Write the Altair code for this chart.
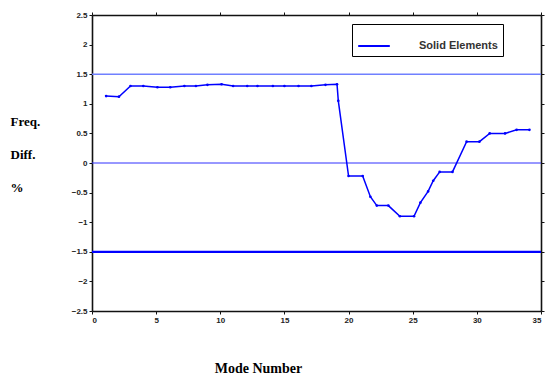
import altair as alt
import pandas as pd

modes = [1.1, 2.1, 3.0, 4.0, 5.1, 6.1, 7.2, 8.1, 9.0, 10.1, 11.0, 12.1, 12.9, 14.1, 15.0, 16.1, 17.1, 18.2, 19.1,
         19.2, 20.0, 21.1, 21.7, 22.2, 23.1, 24.0, 25.1, 25.6, 26.2, 26.6, 27.1, 28.1, 29.2, 30.2, 31.0, 32.2, 33.1, 34.1]
diff = [1.13, 1.12, 1.30, 1.30, 1.28, 1.28, 1.30, 1.30, 1.32, 1.33, 1.30, 1.30, 1.30, 1.30, 1.30, 1.30, 1.30, 1.32, 1.33,
        1.05, -0.22, -0.22, -0.57, -0.72, -0.72, -0.90, -0.90, -0.67, -0.48, -0.30, -0.15, -0.15, 0.36, 0.36, 0.50, 0.50, 0.56, 0.56]
series = ["Solid Elements"] * len(modes)
ref_vals = [1.5, 0.0, -1.5]
ref_colors = ["#7080ff", "#3030ff", "#0000ff"]
ref_widths = [1.6, 1.0, 2.2]
x_ticks = [0, 5, 10, 15, 20, 25, 30, 35]
y_ticks = [2.5, 2, 1.5, 1, 0.5, 0, -0.5, -1, -1.5, -2, -2.5]

df = pd.DataFrame({"mode": modes, "diff": diff, "series": series})
refs = pd.DataFrame({"y": ref_vals, "c": ref_colors, "w": ref_widths})

xscale = alt.Scale(domain=[0, 35], nice=False, zero=False)
yscale = alt.Scale(domain=[-2.5, 2.5], nice=False, zero=False)

lab = dict(labelFont="Liberation Sans", labelFontSize=8, labelFontWeight="bold", labelColor="#222",
           domainColor="#111", domainWidth=1.6, tickColor="#111", tickSize=3, grid=False)

xaxis = alt.Axis(values=x_ticks, format="d", title="Mode Number", titleFont="Liberation Serif",
                 titleFontSize=14, titleFontWeight="bold", titlePadding=37, titleX=166, labelPadding=2, **lab)
yaxis = alt.Axis(values=y_ticks, format="~g", title=["Freq.", "Diff.", "%"], titleAngle=0, titleFont="Liberation Serif",
                 titleFontSize=13, titleFontWeight="bold", titleLineHeight=33, titleAlign="left",
                 titleX=-82, titleY=100, titleBaseline="top", labelPadding=2, **lab)

rules = alt.Chart(refs).mark_rule().encode(
    y=alt.Y("y:Q", scale=yscale, axis=yaxis),
    color=alt.Color("c:N", scale=None),
    strokeWidth=alt.StrokeWidth("w:Q", scale=None),
)

line = alt.Chart(df).mark_line(strokeWidth=1.5, point=alt.OverlayMarkDef(size=7, filled=True)).encode(
    x=alt.X("mode:Q", scale=xscale, axis=xaxis),
    y=alt.Y("diff:Q", scale=yscale, axis=None),
    color=alt.Color("series:N", scale=alt.Scale(range=["#0000ff"]),
                    legend=alt.Legend(title=None, orient="none", legendX=260, legendY=9,
                                      fillColor="white", strokeColor="#000", padding=5,
                                      symbolType="stroke", symbolSize=1000, symbolStrokeWidth=2,
                                      labelFont="Liberation Sans", labelFontSize=11, labelFontWeight="bold",
                                      labelOffset=28, labelColor="#333")),
)

frame_top = alt.Chart(df).mark_point(opacity=0).encode(
    x=alt.X("mode:Q", scale=xscale, axis=alt.Axis(orient="top", values=x_ticks, labels=False, title=None,
                                                   domainColor="#111", domainWidth=1.6, tickColor="#111", tickSize=3, grid=False)),
    y=alt.Y("diff:Q", scale=yscale, axis=alt.Axis(orient="right", values=y_ticks, labels=False, title=None,
                                                   domainColor="#111", domainWidth=1.6, tickColor="#111", tickSize=3, grid=False)),
)

chart = alt.layer(rules, line, frame_top).resolve_axis(x="independent", y="independent").properties(
    width=449, height=296, padding={"left": 92, "top": 15, "right": 6, "bottom": 66},
    autosize=alt.AutoSizeParams(type="none"),
).configure_view(stroke=None).configure(background="white")

chart.save("out.html", embed_options={"renderer": "svg", "actions": False})
